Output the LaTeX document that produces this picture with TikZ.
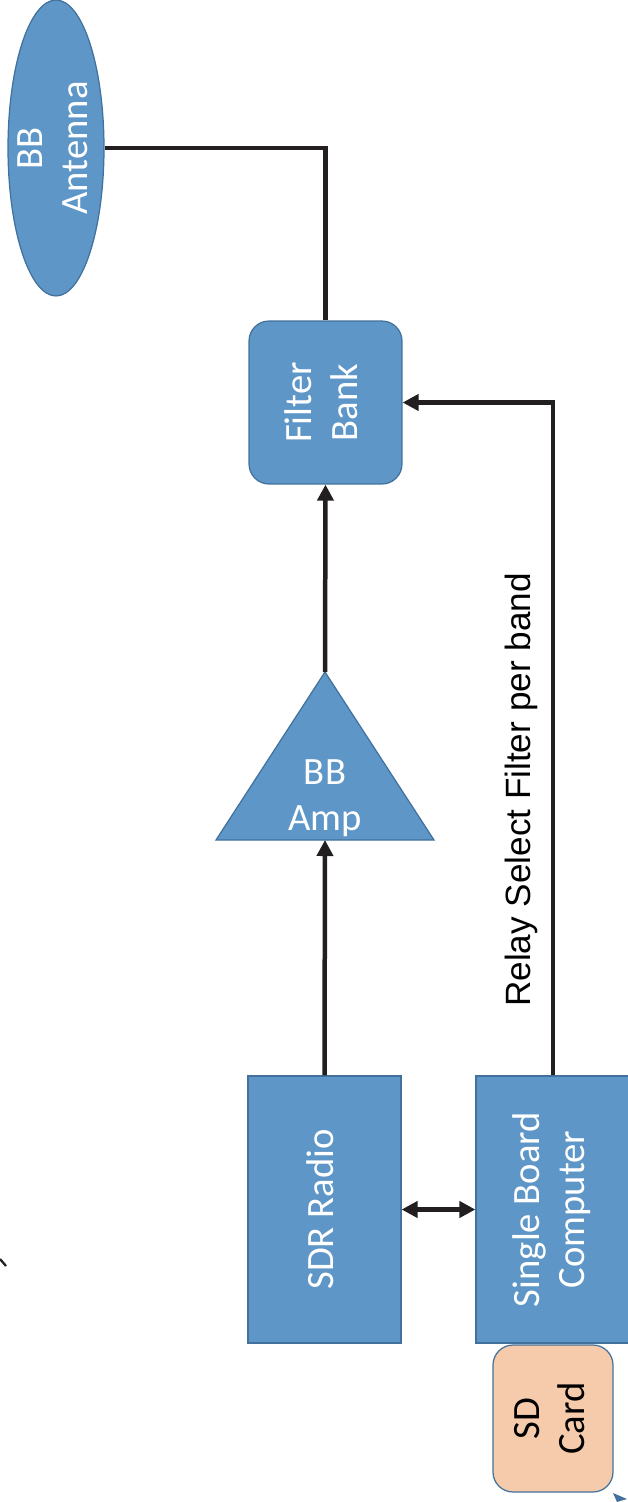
\documentclass[tikz,border=0pt]{standalone}
\usepackage{fontspec}
\setmainfont{Carlito}
\newfontfamily\arialfont{Liberation Sans}
\usepackage{graphicx}
\usetikzlibrary{shapes.geometric,arrows.meta}
\definecolor{boxblue}{RGB}{94,150,200}
\definecolor{boxedge}{RGB}{65,113,156}
\definecolor{cardfill}{RGB}{246,203,172}
\definecolor{wire}{RGB}{35,31,32}
% text turned on its side, lines centred
\newcommand{\sidetext}[1]{\rotatebox{90}{\begin{tabular}{@{}c@{}}#1\end{tabular}}}
\tikzset{
  blk/.style={draw=boxedge, fill=boxblue, line width=0.7pt, text=white,
    font=\fontsize{22}{26}\selectfont, inner sep=0pt, align=center},
  conn/.style={draw=wire, line width=0.09cm},
  tip/.style={-{Triangle[length=0.32cm,width=0.32cm]}},
  tips/.style={{Triangle[length=0.32cm,width=0.32cm]}-{Triangle[length=0.32cm,width=0.32cm]}}
}

\begin{document}
\begin{tikzpicture}[x=0.02cm,y=-0.02cm]
\useasboundingbox (0,0) rectangle (628,1502);
% Blocks
\node[blk, ellipse, minimum width=1.92cm, minimum height=5.92cm] (ant) at (56,148) {\makebox[0pt]{\sidetext{BB\\Antenna}}};
\node[blk, rectangle, rounded corners=0.4cm, minimum width=3.06cm, minimum height=3.26cm] (filt) at (325.5,402.5) {\sidetext{Filter\\Bank}};
\node[blk, rectangle, minimum width=3.06cm, minimum height=5.34cm] (sdr) at (324.5,1209.5) {\sidetext{SDR Radio}};
\node[blk, rectangle, minimum width=3.08cm, minimum height=5.34cm] (sbc) at (553,1209.5) {\sidetext{Single Board\\Computer}};
\node[blk, rectangle, rounded corners=0.4cm, fill=cardfill, text=black, minimum width=2.4cm, minimum height=2.94cm] (sd) at (553,1418.5) {\sidetext{SD\\Card}};
% Amplifier
\coordinate (amptop) at (325,672);
\coordinate (ampbase) at (325,840);
\draw[draw=boxedge, fill=boxblue, line width=0.7pt] (216,840) -- (amptop) -- (434,840) -- cycle;
\node[text=white, font=\fontsize{22}{26}\selectfont, align=center, inner sep=0pt] (amp) at (325,798) {BB\\Amp};
% Connections
\draw[conn] (ant.east) -| (filt.north);
\draw[conn, tip] (amptop) -- (filt.south);
\draw[conn, tip] (sdr.north) -- (ampbase);
\draw[conn, tips] (sdr.east) -- (sbc.west);
\draw[conn, tip] (sbc.north) |- (filt.east);
\node[font=\arialfont\fontsize{20}{24}\selectfont, rotate=90, inner sep=0pt] (relay) at (521,790) {Relay Select Filter per band};
% Stray marks
\draw[wire, line width=1.3pt] (0,1259) -- (6,1266);
\fill[boxedge] (613,1493) -- (627,1499) -- (617,1502) -- cycle;
\end{tikzpicture}
\end{document}
